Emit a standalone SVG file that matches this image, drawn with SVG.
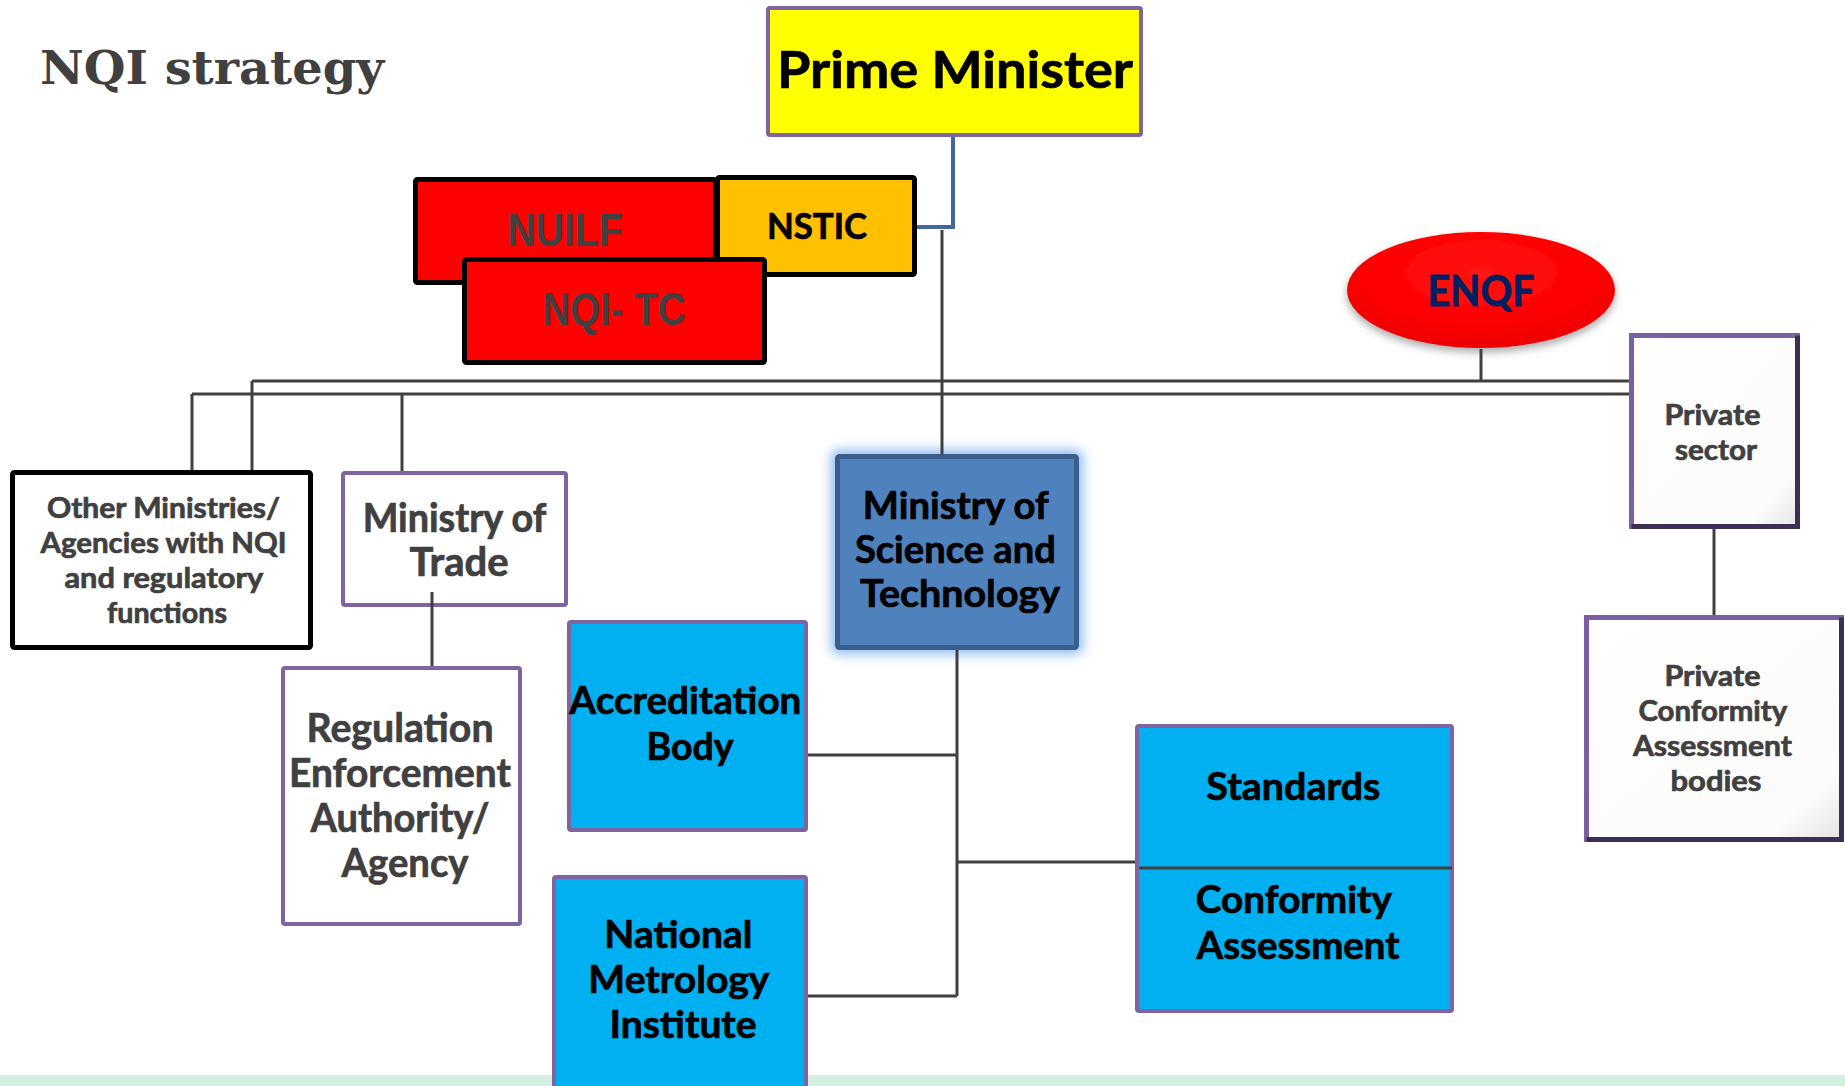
<svg xmlns="http://www.w3.org/2000/svg" width="1845" height="1086" viewBox="0 0 1845 1086">
  <defs>
    <style>
      .t { font-family: Lato, "Open Sans", "Liberation Sans", sans-serif; font-weight: 700; text-anchor: middle; }
      .gray { fill: #404040; stroke: #404040; stroke-width: 0.7; }
      .blk { fill: #000000; stroke: #000000; stroke-width: 0.7; }
      .nar { font-family: "Liberation Sans", Arial, sans-serif; font-weight: 700; text-anchor: middle; fill: #404040; font-size: 46px; }
      .conn { fill: none; stroke: #404040; stroke-width: 3; }
      .purple { stroke: #8064a2; stroke-width: 4; }
      .blue { fill: #00b0f0; }
      .blackbox { stroke: #000000; stroke-width: 5; }
    </style>
    <radialGradient id="enqfGrad" cx="0.5" cy="0.35" r="0.7">
      <stop offset="0" stop-color="#ff1414"/>
      <stop offset="0.6" stop-color="#ff0000"/>
      <stop offset="1" stop-color="#e80000"/>
    </radialGradient>
    <linearGradient id="bevelGrad" x1="0" y1="0" x2="1" y2="1">
      <stop offset="0" stop-color="#ffffff"/>
      <stop offset="0.85" stop-color="#fbfbfb"/>
      <stop offset="1" stop-color="#e4e4e4"/>
    </linearGradient>
    <filter id="shadow" x="-20%" y="-20%" width="140%" height="150%">
      <feDropShadow dx="0" dy="4" stdDeviation="4" flood-color="#000000" flood-opacity="0.35"/>
    </filter>
    <filter id="glow" x="-20%" y="-20%" width="140%" height="140%">
      <feGaussianBlur stdDeviation="6"/>
    </filter>
  </defs>

  <rect x="0" y="0" width="1845" height="1086" fill="#ffffff"/>
  <rect x="0" y="1075" width="1845" height="11" fill="#d4efdf"/>

  <text x="40" y="84" font-family="'DejaVu Serif', 'Liberation Serif', serif" font-weight="700" font-size="47" fill="#404040" textLength="344" lengthAdjust="spacingAndGlyphs">NQI strategy</text>

  <g id="pm">
    <rect x="768" y="8" width="373" height="127" rx="2" fill="#ffff00" class="purple"/>
    <text class="t blk" x="955" y="88" font-size="52" textLength="356" lengthAdjust="spacingAndGlyphs">Prime Minister</text>
  </g>

  <g id="nuilf">
    <rect x="415.5" y="179.5" width="300" height="103" rx="2" fill="#ff0000" class="blackbox"/>
    <text class="nar" x="565" y="246" textLength="115" lengthAdjust="spacingAndGlyphs">NUILF</text>
  </g>

  <g id="nstic">
    <rect x="717.5" y="177.5" width="197" height="97" rx="2" fill="#ffc000" class="blackbox"/>
    <text class="t blk" x="817" y="239" font-size="36" textLength="100" lengthAdjust="spacingAndGlyphs">NSTIC</text>
  </g>

  <g id="nqitc">
    <rect x="464.5" y="259.5" width="300" height="103" rx="2" fill="#ff0000" class="blackbox"/>
    <text class="nar" x="614" y="325" textLength="143" lengthAdjust="spacingAndGlyphs">NQI- TC</text>
  </g>

  <g id="enqf">
    <ellipse cx="1481" cy="290" rx="134" ry="58" fill="url(#enqfGrad)" filter="url(#shadow)"/>
    <text class="t" x="1481" y="306" font-size="42" fill="#002060" stroke="#002060" stroke-width="0.8" textLength="107" lengthAdjust="spacingAndGlyphs">ENQF</text>
  </g>

  <g id="private-sector">
    <rect x="1631.5" y="335.5" width="166" height="191" fill="url(#bevelGrad)" stroke="#7a60a0" stroke-width="5"/>
    <path d="M1797.5,335.5 V526.5 H1631.5" fill="none" stroke="#3c2f52" stroke-width="5"/>
    <text class="t gray" font-size="29">
      <tspan x="1716" y="425" textLength="96" lengthAdjust="spacingAndGlyphs">Private</tspan>
      <tspan x="1716" y="460" textLength="82" lengthAdjust="spacingAndGlyphs">sector</tspan>
    </text>
  </g>

  <g id="private-cab">
    <rect x="1586.5" y="617.5" width="255" height="222" fill="url(#bevelGrad)" stroke="#7a60a0" stroke-width="5"/>
    <path d="M1841.5,617.5 V839.5 H1586.5" fill="none" stroke="#3c2f52" stroke-width="5"/>
    <text class="t gray" font-size="29">
      <tspan x="1716" y="686" textLength="96" lengthAdjust="spacingAndGlyphs">Private</tspan>
      <tspan x="1716" y="721" textLength="148" lengthAdjust="spacingAndGlyphs">Conformity</tspan>
      <tspan x="1716" y="756" textLength="159" lengthAdjust="spacingAndGlyphs">Assessment</tspan>
      <tspan x="1716" y="791" textLength="91" lengthAdjust="spacingAndGlyphs">bodies</tspan>
    </text>
  </g>

  <g id="other-ministries">
    <rect x="12.5" y="472.5" width="298" height="175" rx="2" fill="#ffffff" class="blackbox"/>
    <text class="t gray" font-size="29">
      <tspan x="167" y="518" textLength="233" lengthAdjust="spacingAndGlyphs">Other Ministries/</tspan>
      <tspan x="167" y="553" textLength="246" lengthAdjust="spacingAndGlyphs">Agencies with NQI</tspan>
      <tspan x="167" y="588" textLength="198" lengthAdjust="spacingAndGlyphs">and regulatory</tspan>
      <tspan x="167" y="623" textLength="120" lengthAdjust="spacingAndGlyphs">functions</tspan>
    </text>
  </g>

  <g id="ministry-trade">
    <rect x="343" y="473" width="223" height="132" rx="2" fill="#ffffff" class="purple"/>
    <text class="t gray" font-size="40">
      <tspan x="459" y="532" textLength="183" lengthAdjust="spacingAndGlyphs">Ministry of</tspan>
      <tspan x="459" y="576" textLength="99" lengthAdjust="spacingAndGlyphs">Trade</tspan>
    </text>
  </g>

  <g id="rea">
    <rect x="283" y="668" width="237" height="256" rx="2" fill="#ffffff" class="purple"/>
    <text class="t gray" font-size="41">
      <tspan x="405" y="742" textLength="187" lengthAdjust="spacingAndGlyphs">Regulation</tspan>
      <tspan x="405" y="787" textLength="222" lengthAdjust="spacingAndGlyphs">Enforcement</tspan>
      <tspan x="405" y="832" textLength="179" lengthAdjust="spacingAndGlyphs">Authority/</tspan>
      <tspan x="405" y="877" textLength="127" lengthAdjust="spacingAndGlyphs">Agency</tspan>
    </text>
  </g>

  <g id="most">
    <rect x="831" y="450" width="252" height="204" rx="6" fill="#8fbcf0" filter="url(#glow)"/>
    <rect x="837.5" y="456.5" width="239" height="191" rx="2" fill="#4f81bd" stroke="#395e8c" stroke-width="5"/>
    <text class="t blk" font-size="38">
      <tspan x="960" y="519" textLength="185" lengthAdjust="spacingAndGlyphs">Ministry of</tspan>
      <tspan x="960" y="563" textLength="201" lengthAdjust="spacingAndGlyphs">Science and</tspan>
      <tspan x="960" y="607" textLength="200" lengthAdjust="spacingAndGlyphs">Technology</tspan>
    </text>
  </g>

  <g id="accreditation">
    <rect x="569" y="622" width="237" height="208" rx="2" class="blue purple"/>
    <text class="t blk" font-size="38">
      <tspan x="690" y="714" textLength="232" lengthAdjust="spacingAndGlyphs">Accreditation</tspan>
      <tspan x="690" y="760" textLength="87" lengthAdjust="spacingAndGlyphs">Body</tspan>
    </text>
  </g>

  <g id="nmi">
    <rect x="554" y="877" width="252" height="215" rx="2" class="blue purple"/>
    <text class="t blk" font-size="38">
      <tspan x="683" y="948" textLength="148" lengthAdjust="spacingAndGlyphs">National</tspan>
      <tspan x="683" y="993" textLength="180" lengthAdjust="spacingAndGlyphs">Metrology</tspan>
      <tspan x="683" y="1038" textLength="147" lengthAdjust="spacingAndGlyphs">Institute</tspan>
    </text>
  </g>

  <g id="standards-ca">
    <rect x="1137" y="726" width="315" height="285" rx="2" class="blue purple"/>
    <path d="M1139,868 H1452" stroke="#404040" stroke-width="3"/>
    <text class="t blk" font-size="38">
      <tspan x="1298" y="800" textLength="174" lengthAdjust="spacingAndGlyphs">Standards</tspan>
      <tspan x="1298" y="913" textLength="195" lengthAdjust="spacingAndGlyphs">Conformity</tspan>
      <tspan x="1298" y="959" textLength="203" lengthAdjust="spacingAndGlyphs">Assessment</tspan>
    </text>
  </g>

  <g id="connectors">
    <path d="M953,137 V227 H917" fill="none" stroke="#41699c" stroke-width="4"/>
    <path class="conn" d="M942,230 V454"/>
    <path class="conn" d="M252,381 H1629"/>
    <path class="conn" d="M192,394 H1629"/>
    <path class="conn" d="M252,381 V470"/>
    <path class="conn" d="M192,394 V470"/>
    <path class="conn" d="M402,394 V471"/>
    <path class="conn" d="M1481,349 V381"/>
    <path class="conn" d="M432,592 V666"/>
    <path class="conn" d="M1714,529 V615"/>
    <path class="conn" d="M957,650 V996"/>
    <path class="conn" d="M957,755 H808"/>
    <path class="conn" d="M957,862 H1135"/>
    <path class="conn" d="M957,996 H808"/>
  </g>
</svg>
